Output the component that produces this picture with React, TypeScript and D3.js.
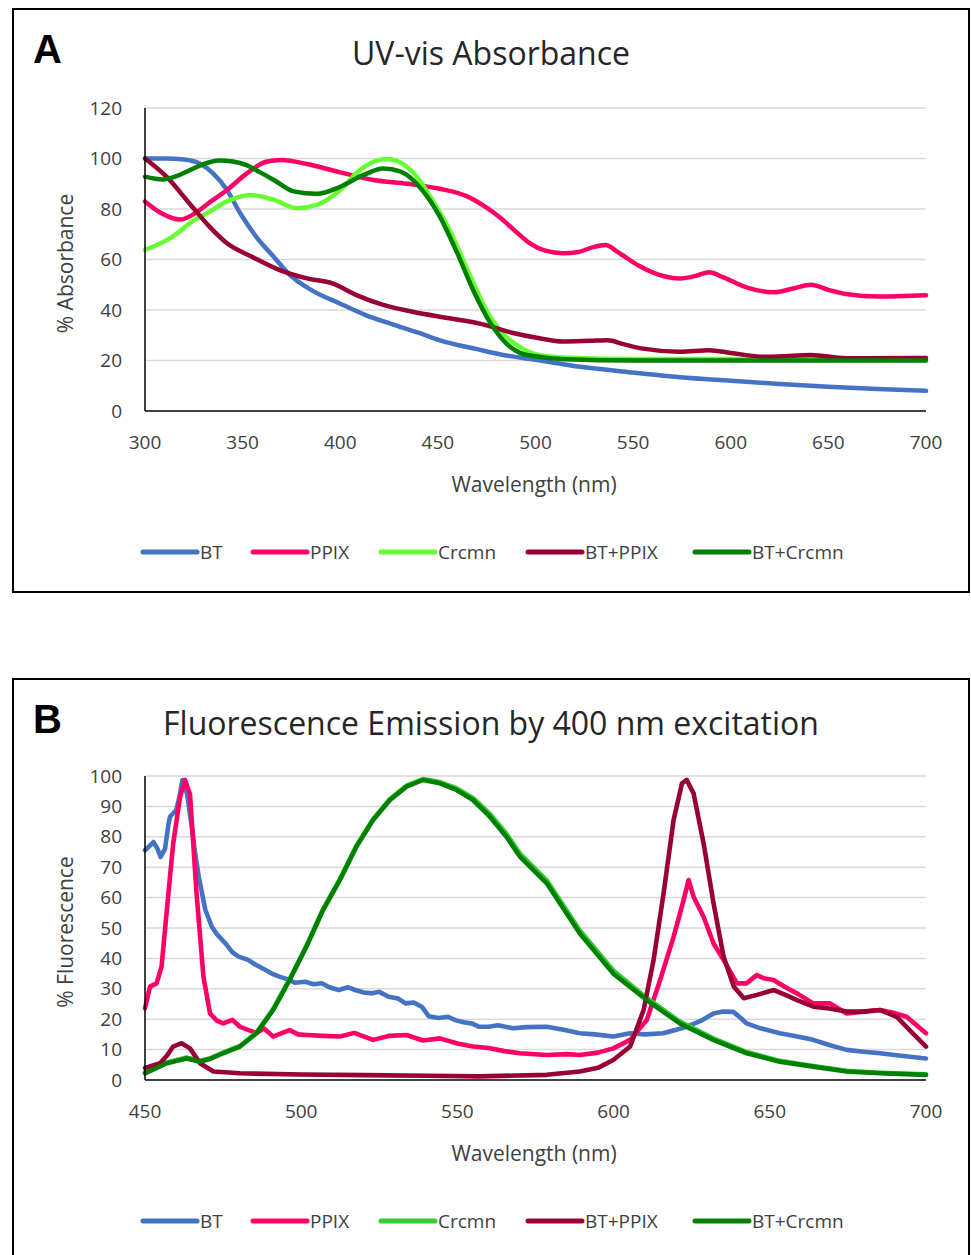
import React from "react";
import * as d3 from "d3";

type P = [number, number];

// ---------- Panel A: UV-vis absorbance ----------
const absXTicks = [300, 350, 400, 450, 500, 550, 600, 650, 700];
const absYTicks = [0, 20, 40, 60, 80, 100, 120];

const absBT: P[] = [[300,100],[310,100],[320,99.6],[328,98],[335,94],[342,87.5],[349,78],[357,69],[366,61],[374,54],[385,48],[400,42.5],[413,38],[426,34.5],[440,31],[451,28],[470,24.5],[485,22],[500,20.3],[523,17.5],[550,15.2],[574,13.4],[600,12],[625,10.7],[650,9.6],[675,8.7],[700,8]];
const absPPIX: P[] = [[300,83],[308,78.5],[318,75.8],[325,78],[332,82],[342,87.5],[352,94],[362,98.7],[370,99.4],[383,97.8],[400,94.5],[417,91.5],[434,90],[451,88],[465,85],[474,81],[482,76.5],[490,71],[497,66.5],[505,63.5],[514,62.5],[522,63],[530,65],[536,65.7],[542,63],[553,57.5],[563,54],[574,52.5],[582,53.5],[589,55],[596,53],[608,49],[622,47],[632,48.5],[641,50],[650,48],[659,46.3],[676,45.3],[700,45.8]];
const absCrcmn: P[] = [[300,63.8],[314,69],[325,75.5],[332,78.4],[342,83],[354,85.5],[366,83.6],[378,80.3],[388,81.6],[400,87.5],[410,95.4],[418,99],[424,99.8],[434,96.8],[441,91],[446,85],[456,71.7],[466,54.5],[477,37],[485,29.4],[495,24],[505,21.8],[520,21],[550,20.6],[600,20.6],[650,20.8],[700,21.2]];
const absBTPPIX: P[] = [[300,100],[311,92.8],[323,82],[333,73],[342,66.4],[355,61],[369,55.8],[383,52.5],[396,50.5],[408,46],[422,42],[437,39.3],[456,36.7],[472,34.5],[488,31],[502,28.8],[514,27.5],[528,27.8],[537,28],[545,26.5],[554,24.8],[574,23.5],[589,24.1],[600,23],[617,21.5],[630,21.8],[641,22.2],[659,20.9],[700,20.9]];
const absBTCrcmn: P[] = [[300,92.8],[309,91.7],[316,93],[323,95.4],[330,97.8],[338,99.2],[345,98.8],[352,97.4],[359,94.5],[366,91.5],[376,87],[388,86],[400,88.8],[412,93.5],[422,96],[431,94.8],[442,87.5],[451,77],[460,62.4],[468,48],[477,34.7],[485,26.8],[492,23],[499,21.8],[515,20.5],[550,20],[600,20],[650,20],[700,20]];

// ---------- Panel B: fluorescence emission ----------
const emXTicks = [450, 500, 550, 600, 650, 700];
const emYTicks = [0, 10, 20, 30, 40, 50, 60, 70, 80, 90, 100];

const emBT: P[] = [[450,75.6],[451.5,77],[452.7,78.3],[454,76],[455,73.4],[456.4,76],[457.5,84],[458,86.6],[460,88.8],[461,93],[462,98.7],[463.5,94],[465,83],[466,75],[467.2,67],[469.3,56],[471.4,50.4],[473,48],[475.7,45],[478,42],[480,40.6],[483,39.5],[485.3,38],[488,36.5],[490.6,35],[493,34],[496,33],[498,32],[501.3,32.3],[504,31.5],[506.6,31.8],[509,30.5],[512,29.6],[515,30.5],[517.3,29.6],[520,28.8],[522.7,28.5],[525,29],[528,27.4],[531,26.8],[533.4,25.2],[536,25.5],[538.7,24],[540.8,21],[544,20.4],[547,20.8],[549.3,19.7],[552,19],[554.6,18.6],[557,17.5],[560,17.5],[563,18],[565.3,17.5],[568,17],[572,17.4],[578.6,17.5],[584,16.5],[589.2,15.4],[594,15],[599.9,14.3],[605.3,15.4],[610,15],[615.9,15.4],[620,16.5],[623.4,17.5],[628,19.5],[632,21.9],[635,22.5],[638.3,22.4],[640,21],[642.6,18.6],[647,17],[653.2,15.4],[658,14.5],[663.9,13.2],[669,11.5],[674.6,9.9],[680,9.3],[685.3,8.8],[692,8],[700,7.1]];
const emPPIX: P[] = [[450,23.6],[451.6,30.7],[453.7,31.8],[455.3,37.3],[457,56],[459,77.6],[461.2,93],[462.8,98.7],[464.4,94],[466.5,61.4],[468.7,34],[470.8,21.9],[473,19.5],[475,18.6],[478,19.8],[480.4,17.5],[483,16.5],[485.7,15.4],[488,17],[491,14.3],[494,15.5],[496.3,16.4],[499,15],[501.7,14.8],[507,14.5],[512.4,14.3],[517,15.5],[523,13.2],[528,14.5],[533.7,14.8],[539,13],[544.4,13.7],[550,12],[555,11],[560,10.5],[565,9.5],[570,8.8],[578.6,8.2],[585,8.5],[589.2,8.2],[595,9],[599.9,10.4],[605.3,13.2],[610.6,19.7],[614.9,32.9],[619.2,47.1],[622.4,59.2],[624,65.8],[625.6,60.3],[628.8,53.7],[632,44.9],[635.2,39.5],[639.5,31.8],[642.6,31.8],[645.8,34.5],[648,33.5],[651.2,32.9],[655,30.5],[658.7,28.5],[663.9,25.2],[669.3,25.2],[674.6,21.9],[680,22.5],[685.3,23],[690,22],[693.8,20.8],[697,18],[700,15.4]];
const emCrcmn: P[] = [[450,2.5],[457,5.8],[463.3,7.4],[467.6,6.3],[471,7.2],[475,9],[480.4,11.2],[485.7,15.6],[491,23.3],[496.3,33.2],[501.7,44.2],[507,56.2],[512.4,66.1],[517.7,77.1],[523,85.8],[528.4,92.4],[533.7,96.8],[539,99],[544.4,98],[549.7,96],[555,92.8],[560.4,87.5],[565.7,81],[570,74.5],[578.6,65.7],[589.2,49.2],[599.9,36],[610.6,27],[621.2,19.2],[631.9,13.7],[642.6,9.2],[653.2,6.3],[663.9,4.6],[674.6,3],[685.3,2.4],[700,1.9]];
const emBTPPIX: P[] = [[450,4],[454.8,5.5],[457,8],[459,11],[461.7,12.1],[464.4,10.4],[467.6,5.5],[471.9,2.8],[480.4,2.2],[500,1.8],[520,1.6],[540,1.4],[557,1.2],[578.6,1.7],[589.2,2.8],[595,4],[599.9,6.6],[605.3,11],[609.6,23],[612.8,39.5],[616,61.4],[619.2,85.5],[621.9,97.6],[623.4,98.7],[625.6,94.3],[628.8,77.9],[632,58.1],[635.2,40.6],[638.5,30.7],[641.7,26.9],[645.9,28],[651.3,29.6],[655,28],[658.7,26.3],[664,24.1],[669,23.5],[674.6,22.5],[680,22.5],[685.3,23],[690.6,20.8],[695.7,15.4],[700,11]];
const emBTCrcmn: P[] = [[450,2.2],[457,5.5],[463.3,7.1],[467.6,6],[471,7],[475,8.8],[480.4,11],[485.7,15.4],[491,23],[496.3,32.9],[501.7,43.9],[507,55.9],[512.4,65.8],[517.7,76.8],[523,85.5],[528.4,92.1],[533.7,96.5],[539,98.7],[544.4,97.6],[549.7,95.4],[555,92.1],[560.4,86.6],[565.7,80],[570,73.5],[578.6,64.7],[589.2,48.2],[599.9,35],[610.6,26.3],[621.2,18.6],[631.9,13.2],[642.6,8.8],[653.2,6],[663.9,4.4],[674.6,2.8],[685.3,2.2],[700,1.7]];

const seriesNames = ["BT", "PPIX", "Crcmn", "BT+PPIX", "BT+Crcmn"];
const colorsA = ["#4472C4", "#FF0066", "#66FF33", "#990033", "#008000"];
const colorsB = ["#4472C4", "#FF0066", "#33CC33", "#990033", "#008000"];

const FONT = "'Open Sans', sans-serif";
const TEXT = "#404040";

interface PanelProps {
  top: number;
  letter: string;
  title: string;
  yLabel: string;
  xDomain: [number, number];
  yDomain: [number, number];
  xTicks: number[];
  yTicks: number[];
  series: P[][];
  colors: string[];
  plotTop: number;
  plotBottom: number;
  lineWidth: number;
  curve: d3.CurveFactory;
  boxHeight: number;
}

function Panel(p: PanelProps) {
  const left = 145, right = 926;
  const x = d3.scaleLinear().domain(p.xDomain).range([left, right]);
  const y = d3.scaleLinear().domain(p.yDomain).range([p.plotBottom, p.plotTop]);
  const line = d3.line<P>().x(d => x(d[0])).y(d => y(d[1])).curve(p.curve);
  const t = p.top;
  const legendY = p.plotBottom + 141;
  const legendX = [143, 253, 381, 528, 695];
  return (
    <g>
      <rect x={13} y={t} width={956} height={p.boxHeight} fill="#fff" stroke="#000" strokeWidth={2} />
      <text x={33} y={t + 54} fontFamily="'Liberation Sans', Arial, sans-serif" fontWeight="bold" fontSize={40} fill="#000">{p.letter}</text>
      <text x={491} y={t + 56} textAnchor="middle" fontFamily={FONT} fontSize={32} fill="#262626">{p.title}</text>
      {p.yTicks.map(v => (
        <g key={"g" + v}>
          {v !== p.yDomain[0] && (
            <line x1={left} x2={right} y1={y(v)} y2={y(v)} stroke="#D9D9D9" strokeWidth={1.5} />
          )}
          <text x={122} y={y(v)} dy="0.35em" textAnchor="end" fontFamily={FONT} fontSize={19} fill={TEXT}>{v}</text>
        </g>
      ))}
      {p.xTicks.map(v => (
        <text key={"x" + v} x={x(v)} y={p.plotBottom + 38} textAnchor="middle" fontFamily={FONT} fontSize={19} fill={TEXT}>{v}</text>
      ))}
      {p.series.map((s, i) => (
        <path key={"s" + i} d={line(s) || ""} fill="none" stroke={p.colors[i]} strokeWidth={p.lineWidth} strokeLinejoin="round" strokeLinecap="round" />
      ))}
      <line x1={left} x2={left} y1={p.plotTop} y2={p.plotBottom} stroke="#000" strokeWidth={1.5} />
      <line x1={left} x2={right} y1={p.plotBottom} y2={p.plotBottom} stroke="#000" strokeWidth={1.5} />
      <text x={534} y={p.plotBottom + 81} textAnchor="middle" fontFamily={FONT} fontSize={21} fill={TEXT}>Wavelength (nm)</text>
      <text transform={`translate(73,${(p.plotTop + p.plotBottom) / 2 + 4}) rotate(-90)`} textAnchor="middle" fontFamily={FONT} fontSize={21} fill={TEXT}>{p.yLabel}</text>
      {seriesNames.map((n, i) => (
        <g key={"l" + n}>
          <line x1={legendX[i]} x2={legendX[i] + 54} y1={legendY} y2={legendY} stroke={p.colors[i]} strokeWidth={5} strokeLinecap="round" />
          <text x={legendX[i] + 57} y={legendY} dy="0.36em" fontFamily={FONT} fontSize={19} fill={TEXT}>{n}</text>
        </g>
      ))}
    </g>
  );
}

export default function App() {
  return (
    <svg width={971} height={1255} style={{ position: "absolute", left: 0, top: 0, background: "#fff" }}>
      <Panel
        top={9}
        letter="A"
        title="UV-vis Absorbance"
        yLabel="% Absorbance"
        xDomain={[300, 700]}
        yDomain={[0, 120]}
        xTicks={absXTicks}
        yTicks={absYTicks}
        series={[absBT, absPPIX, absCrcmn, absBTPPIX, absBTCrcmn]}
        colors={colorsA}
        plotTop={108}
        plotBottom={411}
        lineWidth={4.5}
        curve={d3.curveMonotoneX}
        boxHeight={583}
      />
      <Panel
        top={679}
        letter="B"
        title="Fluorescence Emission by 400 nm excitation"
        yLabel="% Fluorescence"
        xDomain={[450, 700]}
        yDomain={[0, 100]}
        xTicks={emXTicks}
        yTicks={emYTicks}
        series={[emBT, emPPIX, emCrcmn, emBTPPIX, emBTCrcmn]}
        colors={colorsB}
        plotTop={776}
        plotBottom={1080}
        lineWidth={4.6}
        curve={d3.curveLinear}
        boxHeight={600}
      />
    </svg>
  );
}
